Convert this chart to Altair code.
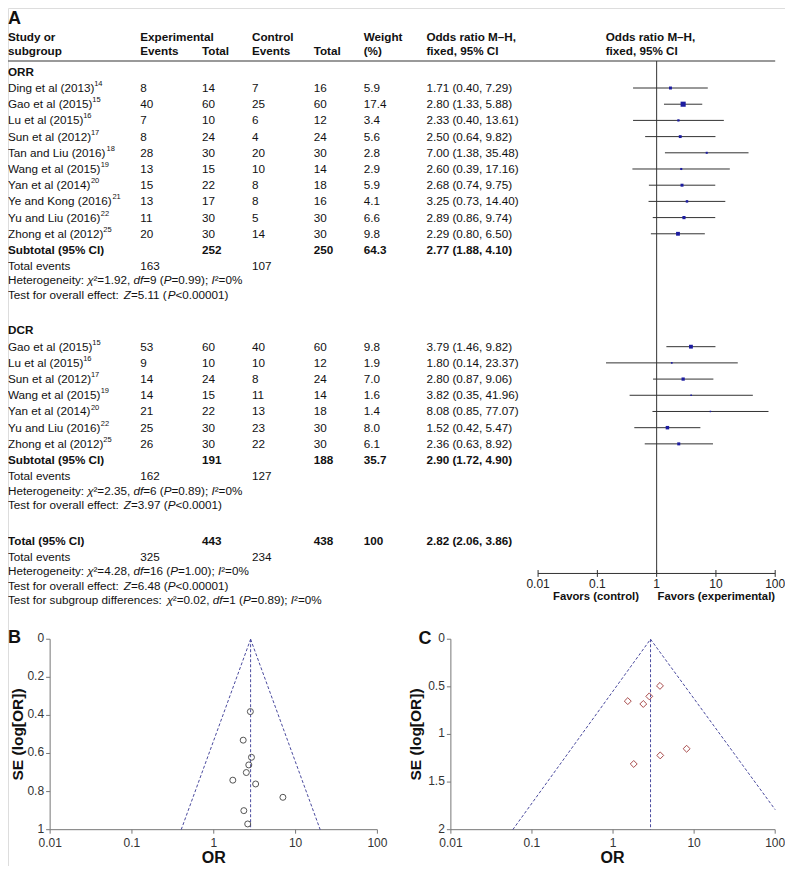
import altair as alt
import pandas as pd

# ---------------- data ----------------
orr_study = ["Ding et al (2013)", "Gao et al (2015)", "Lu et al (2015)", "Sun et al (2012)",
             "Tan and Liu (2016)", "Wang et al (2015)", "Yan et al (2014)", "Ye and Kong (2016)",
             "Yu and Liu (2016)", "Zhong et al (2012)"]
orr_ref = ["14", "15", "16", "17", "18", "19", "20", "21", "22", "25"]
orr_exp_events = [8, 40, 7, 8, 28, 13, 15, 13, 11, 20]
orr_exp_total = [14, 60, 10, 24, 30, 15, 22, 17, 30, 30]
orr_ctl_events = [7, 25, 6, 4, 20, 10, 8, 8, 5, 14]
orr_ctl_total = [16, 60, 12, 24, 30, 14, 18, 16, 30, 30]
orr_weight = [5.9, 17.4, 3.4, 5.6, 2.8, 2.9, 5.9, 4.1, 6.6, 9.8]
orr_or = [1.71, 2.80, 2.33, 2.50, 7.00, 2.60, 2.68, 3.25, 2.89, 2.29]
orr_lo = [0.40, 1.33, 0.40, 0.64, 1.38, 0.39, 0.74, 0.73, 0.86, 0.80]
orr_hi = [7.29, 5.88, 13.61, 9.82, 35.48, 17.16, 9.75, 14.40, 9.74, 6.50]
orr_se = [0.74, 0.38, 0.90, 0.70, 0.83, 0.97, 0.66, 0.76, 0.62, 0.53]

dcr_study = ["Gao et al (2015)", "Lu et al (2015)", "Sun et al (2012)", "Wang et al (2015)",
             "Yan et al (2014)", "Yu and Liu (2016)", "Zhong et al (2012)"]
dcr_ref = ["15", "16", "17", "19", "20", "22", "25"]
dcr_exp_events = [53, 9, 14, 14, 21, 25, 26]
dcr_exp_total = [60, 10, 24, 15, 22, 30, 30]
dcr_ctl_events = [40, 10, 8, 11, 13, 23, 22]
dcr_ctl_total = [60, 12, 24, 14, 18, 30, 30]
dcr_weight = [9.8, 1.9, 7.0, 1.6, 1.4, 8.0, 6.1]
dcr_or = [3.79, 1.80, 2.80, 3.82, 8.08, 1.52, 2.36]
dcr_lo = [1.46, 0.14, 0.87, 0.35, 0.85, 0.42, 0.63]
dcr_hi = [9.82, 23.37, 9.06, 41.96, 77.07, 5.47, 8.92]
dcr_se = [0.49, 1.31, 0.60, 1.22, 1.15, 0.65, 0.68]

sum_label = ["Subtotal (95% CI)", "Subtotal (95% CI)", "Total (95% CI)"]
sum_exp_total = [252, 191, 443]
sum_ctl_total = [250, 188, 438]
sum_weight = ["64.3", "35.7", "100"]
sum_or = [2.77, 2.90, 2.82]
sum_lo = [1.88, 1.72, 2.06]
sum_hi = [4.10, 4.90, 3.86]
sum_exp_events = [163, 162, 325]
sum_ctl_events = [107, 127, 234]
sum_het = ["Heterogeneity: _χ_²=1.92, _df_=9 (_P_=0.99); _I_²=0%",
           "Heterogeneity: _χ_²=2.35, _df_=6 (_P_=0.89); _I_²=0%",
           "Heterogeneity: _χ_²=4.28, _df_=16 (_P_=1.00); _I_²=0%"]
sum_test = ["Test for overall effect: _Z_=5.11 (_P_<0.00001)",
            "Test for overall effect: _Z_=3.97 (_P_<0.0001)",
            "Test for overall effect: _Z_=6.48 (_P_<0.00001)"]
subgroup_test = "Test for subgroup differences: _χ_²=0.02, _df_=1 (_P_=0.89); _I_²=0%"

or_ticks = [0.01, 0.1, 1, 10, 100]
or_tick_labels = ["0.01", "0.1", "1", "10", "100"]
b_se_ticks = [0, 0.2, 0.4, 0.6, 0.8, 1]
b_se_labels = ["0", "0.2", "0.4", "0.6", "0.8", "1"]
c_se_ticks = [0, 0.5, 1, 1.5, 2]
c_se_labels = ["0", "0.5", "1", "1.5", "2"]

funnel_b_x = [0.40, 2.82, 2.82, 20.0, 2.82, 2.82]
funnel_b_y = [1.0, 0.0, 0.0, 1.0, 0.0, 1.0]
funnel_c_x = [0.058, 2.90, 2.90, 100.0, 2.90, 2.90]
funnel_c_y = [2.0, 0.0, 0.0, 1.79, 0.0, 2.0]
funnel_seg = ["left", "left", "right", "right", "mid", "mid"]

# ---------------- layout ----------------
W, H = 777, 858
SX, SY = W / 793, H / 874
FS = 11.7
COL = dict(study=0, ee=135, et=198, ce=249, ct=312, w=363, ci=427)
ROW, FOOT = 16.5, 14.5

_AW = {" ": 278, "%": 889, "(": 333, ")": 333, ",": 278, "-": 333, ".": 278, ":": 278,
       ";": 278, "<": 584, "=": 584, ">": 584, "[": 278, "]": 278, "²": 333, "χ": 520}
for ch in "0123456789":
    _AW[ch] = 556
for ch, v in zip("ABCDEFGHIJKLMNOPQRSTUVWXYZ",
                 [667, 667, 722, 722, 667, 611, 778, 722, 278, 500, 667, 556, 833, 722, 778,
                  667, 778, 722, 667, 611, 722, 667, 944, 667, 667, 611]):
    _AW[ch] = v
for ch, v in zip("abcdefghijklmnopqrstuvwxyz",
                 [556, 556, 500, 556, 556, 278, 556, 556, 222, 222, 500, 222, 833, 556, 556,
                  556, 556, 333, 500, 278, 556, 500, 722, 500, 500, 500]):
    _AW[ch] = v


def tw(s, fs):
    return sum(_AW.get(c, 556) for c in s) * fs / 1000.0


recs = []


def add(x, y, t, k):
    recs.append(dict(x=x, y=y, t=t, k=k))


def add_rich(x, y, s):
    cx = x
    for j, p in enumerate(s.split("_")):
        if not p:
            continue
        add(cx, y, p, "i" if j % 2 else "n")
        cx += tw(p, FS) / SX


def add_name(x, y, name, ref):
    add(x, y, name, "n")
    add(x + tw(name, FS) / SX - 0.3, y - 4, ref, "s")


def fmt_ci(o, l, h):
    return f"{o:.2f} ({l:.2f}, {h:.2f})"


# header
for t, x, y in [("Study or", COL["study"], 30), ("subgroup", COL["study"], 44),
                ("Experimental", COL["ee"], 30), ("Events", COL["ee"], 44), ("Total", COL["et"], 44),
                ("Control", COL["ce"], 30), ("Events", COL["ce"], 44), ("Total", COL["ct"], 44),
                ("Weight", COL["w"], 30), ("(%)", COL["w"], 44),
                ("Odds ratio M–H,", COL["ci"], 30), ("fixed, 95% CI", COL["ci"], 44),
                ("Odds ratio M–H,", 610, 30), ("fixed, 95% CI", 610, 44)]:
    add(x, y, t, "b")

forest_rows = []
dia_rows = []


def block(title, ty, y0, study, ref, ee, et, ce, ct, w, o, lo, hi):
    add(0, ty, title, "b")
    for i in range(len(study)):
        y = y0 + i * ROW
        add_name(COL["study"], y, study[i], ref[i])
        add(COL["ee"], y, str(ee[i]), "n")
        add(COL["et"], y, str(et[i]), "n")
        add(COL["ce"], y, str(ce[i]), "n")
        add(COL["ct"], y, str(ct[i]), "n")
        add(COL["w"], y, f"{w[i]:.1f}", "n")
        add(COL["ci"], y, fmt_ci(o[i], lo[i], hi[i]), "n")
        forest_rows.append(dict(y=y, o=o[i], lo=lo[i], hi=hi[i], w=w[i]))
    return y0 + len(study) * ROW


def summary(si, ys):
    add(0, ys, sum_label[si], "b")
    add(COL["et"], ys, str(sum_exp_total[si]), "b")
    add(COL["ct"], ys, str(sum_ctl_total[si]), "b")
    add(COL["w"], ys, sum_weight[si], "b")
    add(COL["ci"], ys, fmt_ci(sum_or[si], sum_lo[si], sum_hi[si]), "b")
    ye = ys + ROW
    add(0, ye, "Total events", "n")
    add(COL["ee"], ye, str(sum_exp_events[si]), "n")
    add(COL["ce"], ye, str(sum_ctl_events[si]), "n")
    add_rich(0, ye + FOOT, sum_het[si])
    add_rich(0, ye + 2 * FOOT, sum_test[si])
    for k, (xv, a, b) in enumerate([(sum_lo[si], 0, 0), (sum_or[si], -6.5, 6.5), (sum_hi[si], 0, 0)]):
        dia_rows.append(dict(id=si, i=k, x=xv, ya=ys + a, yb=ys + b))
    return ye + 2 * FOOT


ys = block("ORR", 65, 81.5, orr_study, orr_ref, orr_exp_events, orr_exp_total, orr_ctl_events,
           orr_ctl_total, orr_weight, orr_or, orr_lo, orr_hi)
summary(0, ys)
ys = block("DCR", 328, 345, dcr_study, dcr_ref, dcr_exp_events, dcr_exp_total, dcr_ctl_events,
           dcr_ctl_total, dcr_weight, dcr_or, dcr_lo, dcr_hi)
summary(1, ys)
yend = summary(2, 543)
add_rich(0, yend + FOOT, subgroup_test)

add(0, 11, "A", "big")
add(0, 642, "B", "big")
add(419, 643, "C", "big")
add(644, 600, "Favors (control)", "favr")
add(663, 600, "Favors (experimental)", "favl")
add(10.5, 740, "SE (log[OR])", "ytitle")
add(416, 740, "SE (log[OR])", "ytitle")
add(210, 866, "OR", "xtitle")
add(617, 866, "OR", "xtitle")

df_text = pd.DataFrame(recs)
df_forest = pd.DataFrame(forest_rows)
df_dia = pd.DataFrame(dia_rows)

# ---------------- scales ----------------
px_x = alt.Scale(domain=[0, 793], range=[0, W], nice=False, zero=False)
px_y = alt.Scale(domain=[0, 874], range=[0, H], nice=False, zero=False)
fx = alt.Scale(type="log", domain=[0.01, 100], range=[541 * SX, 783 * SX], nice=False)
bx = alt.Scale(type="log", domain=[0.01, 100], range=[43 * SX, 377 * SX], nice=False)
by = alt.Scale(domain=[0, 1], range=[643 * SY, 837 * SY], nice=False, zero=False)
cxs = alt.Scale(type="log", domain=[0.01, 100], range=[452 * SX, 783 * SX], nice=False)
cys = alt.Scale(domain=[0, 2], range=[643 * SY, 837 * SY], nice=False, zero=False)

# ---------------- table layer ----------------
base = alt.Chart(df_text)
enc = dict(x=alt.X("x:Q", scale=px_x, axis=None), y=alt.Y("y:Q", scale=px_y, axis=None), text="t:N")


def txt(kind, **kw):
    kw.setdefault("color", "#111")
    return base.transform_filter(alt.datum.k == kind).mark_text(baseline="middle", **kw).encode(**enc)


header_rule = alt.Chart(pd.DataFrame({"x": [0], "x2": [783], "y": [54]})).mark_rule(
    color="#777", strokeWidth=1.5).encode(
    x=alt.X("x:Q", scale=px_x, axis=None), x2="x2:Q", y=alt.Y("y:Q", scale=px_y, axis=None))

table = alt.layer(
    header_rule,
    txt("n", align="left", fontSize=FS),
    txt("i", align="left", fontSize=FS, fontStyle="italic"),
    txt("b", align="left", fontSize=FS, fontWeight="bold"),
    txt("s", align="left", fontSize=7.5),
    txt("big", align="left", fontSize=18, fontWeight="bold"),
    txt("favr", align="right", fontSize=11.3, fontWeight="bold"),
    txt("favl", align="left", fontSize=11.3, fontWeight="bold"),
    txt("ytitle", align="center", fontSize=15.5, fontWeight="bold", angle=270),
    txt("xtitle", align="center", fontSize=16, fontWeight="bold"),
)

# ---------------- forest layer ----------------
fy = alt.Y("y:Q", scale=px_y, axis=None)
null_line = alt.Chart(pd.DataFrame({"x": [1], "y": [54], "y2": [576]})).mark_rule(
    color="#333", strokeWidth=1).encode(x=alt.X("x:Q", scale=fx, axis=None), y=fy, y2="y2:Q")
faxis_line = alt.Chart(pd.DataFrame({"x": [0.01], "x2": [100], "y": [576]})).mark_rule(
    color="#333", strokeWidth=1).encode(x=alt.X("x:Q", scale=fx, axis=None), x2="x2:Q", y=fy)
df_ftick = pd.DataFrame({"x": or_ticks, "lab": or_tick_labels, "y": [572.5] * 5, "y2": [579.5] * 5,
                         "ly": [586.5] * 5})
faxis_ticks = alt.Chart(df_ftick).mark_rule(color="#333", strokeWidth=1).encode(
    x=alt.X("x:Q", scale=fx, axis=None), y=fy, y2="y2:Q")
faxis_labels = alt.Chart(df_ftick).mark_text(fontSize=12, color="#222", baseline="middle").encode(
    x=alt.X("x:Q", scale=fx, axis=None), y=alt.Y("ly:Q", scale=px_y, axis=None), text="lab:N")
ci_rules = alt.Chart(df_forest).mark_rule(color="#333", strokeWidth=1).encode(
    x=alt.X("lo:Q", scale=fx, axis=None), x2="hi:Q", y=fy)
squares = alt.Chart(df_forest).mark_point(shape="square", filled=True, color="#1c1ca0", opacity=1).encode(
    x=alt.X("o:Q", scale=fx, axis=None), y=fy,
    size=alt.Size("w:Q", scale=alt.Scale(domain=[0, 17.4], range=[0, 26]), legend=None))
diamonds = alt.Chart(df_dia).mark_area(color="black", opacity=1).encode(
    x=alt.X("x:Q", scale=fx, axis=None), y=alt.Y("ya:Q", scale=px_y, axis=None), y2="yb:Q",
    detail="id:N", order="i:Q")
forest = alt.layer(null_line, faxis_line, faxis_ticks, faxis_labels, ci_rules, squares, diamonds)


# ---------------- funnel plots ----------------
def funnel(xs, ys_scale, se_max, se_ticks, se_labels, lx, ly, o, se, shape, color, size):
    X = lambda f: alt.X(f, scale=xs, axis=None)
    Y = lambda f: alt.Y(f, scale=ys_scale, axis=None)
    ax_col = "#777"
    xdom = alt.Chart(pd.DataFrame({"x": [0.01], "x2": [100], "y": [se_max]})).mark_rule(
        color=ax_col, strokeWidth=1).encode(x=X("x:Q"), x2="x2:Q", y=Y("y:Q"))
    ydom = alt.Chart(pd.DataFrame({"x": [0.01], "y": [0], "y2": [se_max]})).mark_rule(
        color=ax_col, strokeWidth=1).encode(x=X("x:Q"), y=Y("y:Q"), y2="y2:Q")
    dxt = pd.DataFrame({"x": or_ticks, "x2": or_ticks, "lab": or_tick_labels, "y": [se_max] * 5})
    xticks = alt.Chart(dxt).mark_rule(color=ax_col, strokeWidth=1, y2Offset=4).encode(
        x=X("x:Q"), y=Y("y:Q"), y2="y:Q")
    xlabs = alt.Chart(dxt).mark_text(fontSize=12, color="#333", baseline="middle", dy=13).encode(
        x=X("x:Q"), y=Y("y:Q"), text="lab:N")
    dyt = pd.DataFrame({"x": [0.01] * len(se_ticks), "y": se_ticks, "lab": se_labels})
    yticks = alt.Chart(dyt).mark_rule(color=ax_col, strokeWidth=1, x2Offset=-4).encode(
        x=X("x:Q"), x2="x:Q", y=Y("y:Q"))
    ylabs = alt.Chart(dyt).mark_text(fontSize=12, color="#333", baseline="middle", align="right",
                                      dx=-6, dy=-1).encode(x=X("x:Q"), y=Y("y:Q"), text="lab:N")
    lines = alt.Chart(pd.DataFrame({"x": lx, "y": ly, "seg": funnel_seg, "i": list(range(6))})).mark_line(
        color="#4a4a9e", strokeDash=[3, 2], strokeWidth=1).encode(
        x=X("x:Q"), y=Y("y:Q"), detail="seg:N", order="i:Q")
    pts = alt.Chart(pd.DataFrame({"o": o, "se": se})).mark_point(
        shape=shape, filled=False, color=color, size=size, strokeWidth=1, opacity=1).encode(
        x=X("o:Q"), y=Y("se:Q"))
    return alt.layer(xdom, ydom, xticks, xlabs, yticks, ylabs, lines, pts)


funnel_b = funnel(bx, by, 1, b_se_ticks, b_se_labels, funnel_b_x, funnel_b_y, orr_or, orr_se,
                  "circle", "#555555", 36)
funnel_c = funnel(cxs, cys, 2, c_se_ticks, c_se_labels, funnel_c_x, funnel_c_y, dcr_or, dcr_se,
                  "diamond", "#a84a4a", 48)

chart = alt.layer(table, forest, funnel_b, funnel_c).resolve_scale(
    x="independent", y="independent").properties(
    width=W, height=H, autosize=alt.AutoSizeParams(type="none"), padding=0,
    background="white").configure_view(stroke=None).configure(font="Liberation Sans")

chart.save("out.html", embed_options={"renderer": "svg", "actions": False})
